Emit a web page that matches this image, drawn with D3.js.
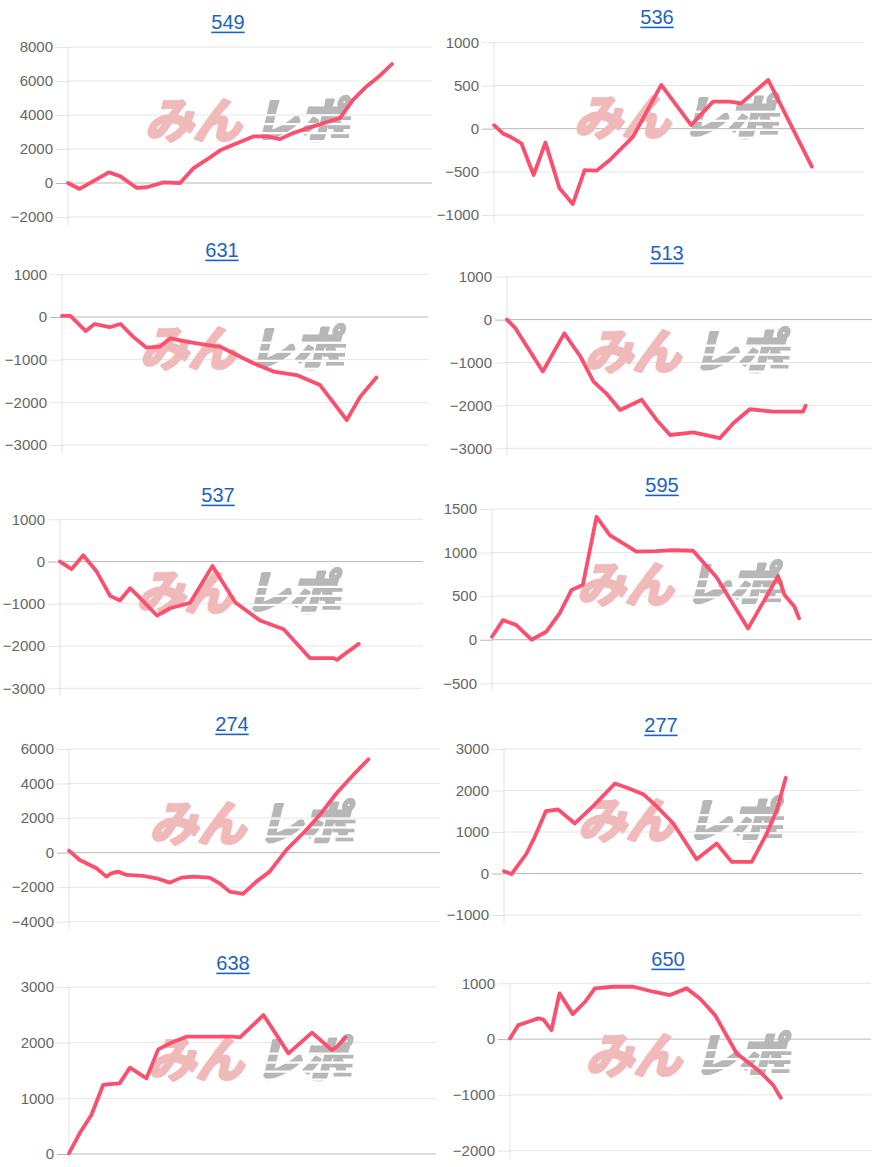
<!DOCTYPE html>
<html><head><meta charset="utf-8">
<script src="https://cdn.jsdelivr.net/npm/d3@7"></script>
<style>
html,body{margin:0;padding:0;background:#fff;}
svg{display:block;}
</style></head>
<body>
<svg id="c" width="880" height="1167"></svg>
<script>
// ---------- DATA ----------
const titles = ["549","536","631","513","537","595","274","277","638","650"];

// x = progress (0-100 of the horizontal axis), y = value
const s549 = [[0,0],[3.2,-350],[11.2,630],[14.4,390],[18.9,-290],[21.7,-250],[26.2,40],[30.8,0],[34.5,880],[38.1,1370],[41.8,1920],[45.4,2250],[50.9,2740],[54.6,2740],[58.2,2580],[61.9,2940],[67.4,3330],[74.7,3820],[78.3,4890],[82.0,5680],[85.6,6300],[89.0,7000]];
const s536 = [[0,40],[2.4,-55],[4.2,-90],[7.4,-170],[10.7,-537],[13.9,-162],[17.7,-690],[21.3,-872],[24.5,-480],[27.7,-487],[31.3,-363],[37.6,-93],[45.2,506],[53.3,42],[59.2,313],[63.7,313],[66.8,293],[74.1,564],[85.9,-440]];
const s631 = [[0,25],[2.3,25],[6.5,-330],[8.9,-165],[13.0,-240],[16.0,-165],[19.4,-460],[23.1,-720],[26.7,-695],[29.6,-500],[34.0,-580],[37.7,-630],[41.3,-680],[43.2,-695],[46.8,-850],[52.3,-1085],[57.8,-1280],[64.1,-1360],[70.5,-1595],[77.8,-2414],[81.5,-1867],[85.9,-1420]];
const s513 = [[0,0],[2.3,-200],[9.8,-1210],[15.7,-320],[20.1,-860],[23.7,-1445],[27.3,-1730],[31.0,-2105],[36.9,-1870],[41.0,-2340],[44.7,-2690],[51.0,-2630],[58.3,-2765],[62.0,-2415],[66.5,-2090],[72.9,-2145],[81.1,-2145],[81.8,-2010]];
const s537 = [[0,0],[3.2,-180],[6.4,150],[10.1,-237],[13.8,-813],[16.5,-923],[19.3,-631],[22.1,-868],[26.7,-1278],[30.3,-1105],[35.8,-980],[42.0,-103],[48.3,-970],[55.1,-1396],[61.6,-1601],[68.9,-2288],[75.4,-2288],[76.3,-2327],[79.0,-2154],[82.3,-1949]];
const s595 = [[0,34],[2.9,225],[6.4,168],[10.4,0],[14.3,92],[17.8,302],[20.9,570],[23.9,627],[27.5,1411],[31.0,1200],[38.0,1010],[43.2,1017],[47.6,1029],[52.9,1021],[59.0,723],[67.4,130],[75.3,730],[77.0,512],[79.6,379],[80.8,245]];
const s274 = [[0,115],[2.9,-425],[7.4,-907],[10.1,-1390],[11.4,-1197],[13.2,-1100],[15.5,-1293],[20.0,-1351],[23.6,-1486],[27.2,-1737],[30.3,-1448],[33.5,-1390],[37.9,-1448],[40.6,-1776],[43.3,-2259],[46.9,-2394],[50.5,-1680],[54.1,-1100],[58.6,154],[63.1,1120],[67.6,2181],[72.1,3436],[76.6,4498],[80.7,5405]];
const s277 = [[0,56],[2.1,-16],[6.3,482],[8.6,884],[11.7,1502],[15.1,1542],[19.8,1205],[24.9,1622],[31.0,2169],[34.2,2072],[38.9,1912],[42.6,1622],[47.3,1205],[53.8,345],[59.4,723],[63.6,281],[69.2,281],[73.4,964],[76.2,1526],[78.7,2305]];
const s638 = [[0,12],[2.9,371],[6.1,701],[9.3,1240],[11.1,1257],[13.8,1269],[16.6,1551],[21.1,1359],[24.3,1880],[27.5,1988],[32.0,2108],[44.8,2108],[46.6,2096],[53.0,2497],[59.8,1808],[66.2,2180],[71.6,1868],[73.0,1928],[75.3,2096]];
const s650 = [[0,12],[2.3,251],[5.1,311],[7.8,371],[9.2,353],[11.5,161],[13.7,819],[17.4,448],[20.8,669],[23.5,909],[28.6,938],[34.2,938],[39.7,849],[44.3,789],[48.9,909],[52.6,729],[56.8,430],[62.8,-257],[69.3,-586],[72.9,-825],[75.0,-1052]];

const ticks549 = [-2000,0,2000,4000,6000,8000];
const ticks536 = [-1000,-500,0,500,1000];
const ticks631 = [-3000,-2000,-1000,0,1000];
const ticks513 = [-3000,-2000,-1000,0,1000];
const ticks537 = [-3000,-2000,-1000,0,1000];
const ticks595 = [-500,0,500,1000,1500];
const ticks274 = [-4000,-2000,0,2000,4000,6000];
const ticks277 = [-1000,0,1000,2000,3000];
const ticks638 = [0,1000,2000,3000];
const ticks650 = [-2000,-1000,0,1000];

const seriesList = [s549,s536,s631,s513,s537,s595,s274,s277,s638,s650];
const tickList = [ticks549,ticks536,ticks631,ticks513,ticks537,ticks595,ticks274,ticks277,ticks638,ticks650];

// ---------- LAYOUT (page positions of each small chart) ----------
const layout = [
  {l:68, r:432, t:47,    b:217,   tx:228, ty:22},
  {l:494,r:864, t:42.3,  b:215,   tx:657, ty:17},
  {l:62, r:428, t:274.3, b:445,   tx:222, ty:250},
  {l:507,r:872, t:276.7, b:448.3, tx:667, ty:253},
  {l:60, r:423, t:519.3, b:688.3, tx:218, ty:495},
  {l:492,r:872, t:509,   b:683.3, tx:662, ty:485},
  {l:69, r:440, t:749,   b:921.7, tx:232, ty:724},
  {l:504,r:862, t:749,   b:915,   tx:661, ty:725},
  {l:69, r:436, t:987,   b:1154,  tx:233, ty:963},
  {l:510,r:871, t:983.3, b:1150.7,tx:668, ty:959}
];

const FONT = "'Liberation Sans', Arial, Helvetica, sans-serif";
const svg = d3.select("#c");

// stripe mask for the grey half of the watermark
const defs = svg.append("defs");
const m = defs.append("mask").attr("id","stripes").attr("maskContentUnits","userSpaceOnUse");
m.append("rect").attr("x",-20).attr("y",-50).attr("width",160).attr("height",90).attr("fill","#fff");
[-24,-15,-6,2].forEach(y=>m.append("rect").attr("x",-20).attr("y",y).attr("width",160).attr("height",2.2).attr("fill","#000"));

const PINK = "#f1baba", GREY = "#b7b7b7";

seriesList.forEach((data,i)=>{
  const L = layout[i], ticks = tickList[i];
  const x = d3.scaleLinear().domain([0,100]).range([L.l,L.r]);
  const y = d3.scaleLinear().domain(d3.extent(ticks)).range([L.b,L.t]);
  const g = svg.append("g");

  // title (link style)
  const tt = g.append("text").attr("x",L.tx).attr("y",L.ty+7.2)
    .attr("text-anchor","middle").attr("font-family",FONT).attr("font-size",20)
    .attr("fill","#1a63c6").text(titles[i]);
  const w = tt.node().getComputedTextLength();
  g.append("rect").attr("x",L.tx-w/2).attr("y",L.ty+9.6).attr("width",w).attr("height",1.6).attr("fill","#1a63c6");

  // y axis via d3.axisLeft
  const ax = g.append("g").attr("transform",`translate(${L.l},0)`)
    .call(d3.axisLeft(y).tickValues(ticks).tickSize(12).tickPadding(3).tickFormat(d3.format("d")));
  ax.select(".domain").remove();
  ax.selectAll("text").attr("font-family",FONT).attr("font-size",15).attr("fill","#666");
  ax.selectAll("line").attr("stroke",d=>d===0?"rgba(0,0,0,0.28)":"rgba(0,0,0,0.1)");

  // gridlines
  g.append("g").selectAll("line").data(ticks).join("line")
    .attr("x1",L.l).attr("x2",L.r).attr("y1",d=>y(d)).attr("y2",d=>y(d))
    .attr("stroke",d=>d===0?"rgba(0,0,0,0.28)":"rgba(0,0,0,0.1)").attr("stroke-width",1);
  // vertical axis line
  g.append("line").attr("x1",L.l).attr("x2",L.l).attr("y1",L.t).attr("y2",L.b+8)
    .attr("stroke","rgba(0,0,0,0.1)");

  // watermark
  const cx = (L.l+L.r)/2 - 2, cy = (L.t+L.b)/2 - 11;
  const wm = g.append("g").attr("transform",`translate(${cx-103},${cy+17})`);
  wm.append("text").attr("x",0).attr("y",0).attr("transform","skewX(-14)")
    .attr("font-family","'Noto Sans CJK JP'").attr("font-weight",700).attr("font-size",48)
    .attr("textLength",96).attr("lengthAdjust","spacingAndGlyphs")
    .attr("fill",PINK).attr("stroke",PINK).attr("stroke-width",3.2).attr("stroke-linejoin","round")
    .text("みん");
  const gr = wm.append("g").attr("transform","translate(108,0)").attr("mask","url(#stripes)");
  gr.append("text").attr("x",0).attr("y",0).attr("transform","skewX(-14)")
    .attr("font-family","'Noto Sans CJK JP'").attr("font-weight",700).attr("font-size",48)
    .attr("textLength",90).attr("lengthAdjust","spacingAndGlyphs")
    .attr("fill",GREY).attr("stroke",GREY).attr("stroke-width",3.2).attr("stroke-linejoin","round")
    .text("レポ");
  [-22,-13,-4].forEach((yy,k)=>gr.append("rect").attr("x",72+k*3).attr("y",yy).attr("width",26-k*4).attr("height",4)
    .attr("fill",GREY));

  // series line
  g.append("path").datum(data)
    .attr("d",d3.line().x(d=>x(d[0])).y(d=>y(d[1])))
    .attr("fill","none").attr("stroke","#fb4f6d").attr("stroke-width",3.8)
    .attr("stroke-linejoin","round").attr("stroke-linecap","round");
});
</script>
</body></html>
